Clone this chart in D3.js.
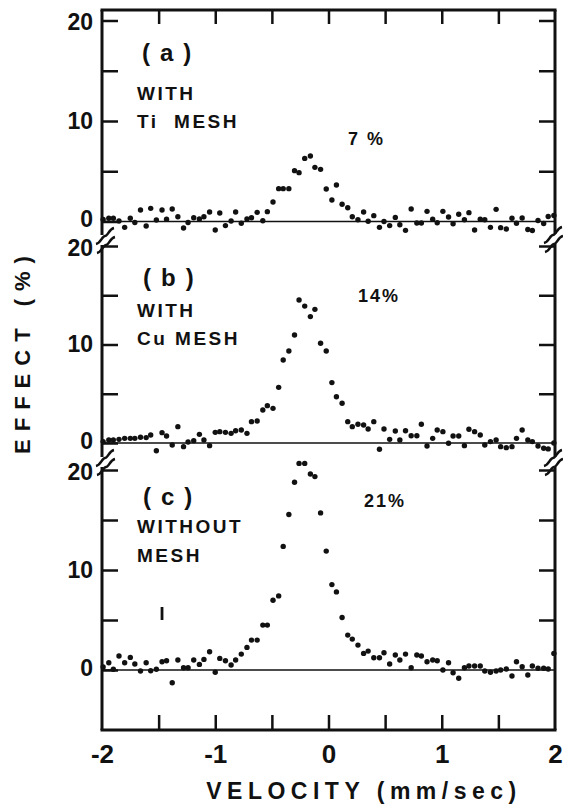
<!DOCTYPE html>
<html>
<head>
<meta charset="utf-8">
<script src="https://cdn.jsdelivr.net/npm/d3@7"></script>
<style>
  body { margin: 0; background: #fff; }
  svg text { font-family: "Liberation Sans", Arial, sans-serif; font-weight: bold; fill: #111; }
</style>
</head>
<body>
<div id="chart"></div>
<script>
// velocity channels (mm/sec), shared by the three spectra
const velocity = [-1.99, -1.94, -1.90, -1.85, -1.80, -1.75, -1.71, -1.66, -1.61, -1.57,
  -1.52, -1.47, -1.43, -1.38, -1.33, -1.28, -1.24, -1.19, -1.14, -1.10,
  -1.05, -1.00, -0.96, -0.91, -0.86, -0.82, -0.77, -0.72, -0.68, -0.63,
  -0.58, -0.54, -0.49, -0.44, -0.40, -0.35, -0.30, -0.26, -0.21, -0.16,
  -0.12, -0.07, -0.02, 0.03, 0.07, 0.12, 0.17, 0.21, 0.26, 0.31,
  0.35, 0.40, 0.45, 0.49, 0.54, 0.59, 0.63, 0.68, 0.73, 0.78,
  0.82, 0.87, 0.92, 0.96, 1.01, 1.06, 1.10, 1.15, 1.20, 1.24,
  1.29, 1.34, 1.38, 1.43, 1.48, 1.52, 1.57, 1.62, 1.66, 1.71,
  1.76, 1.80, 1.85, 1.90, 1.94, 1.99];

// (a) with Ti mesh
const effectTi = [0.2, 0.32, 0.32, 0.05, -0.58, 0.32, -0.1, 1.14, -0.45, 1.31,
  0.15, 1.14, 0.22, 1.24, 0.48, -0.65, -0.1, 0.38, 0.25, 0.48,
  0.95, -0.85, 0.85, -0.41, 0.05, 0.95, -0.18, 0.25, 0.38, 0.91,
  0.08, 0.98, 1.94, 3.27, 3.27, 3.27, 5.06, 4.86, 6.28, 6.52,
  5.39, 5.19, 3.23, 2.14, 3.63, 1.71, 1.37, 0.48, 0.18, 0.95,
  0.02, 0.58, -0.58, 0.0, -0.41, 0.41, -0.32, -0.88, 1.24, -0.15,
  -0.15, 1.01, 0.22, -0.12, 1.01, 0.45, -0.22, 0.72, 0.18, 0.88,
  -0.85, 0.22, 0.18, -0.58, 1.21, -0.61, -0.75, 0.32, -0.18, 0.35,
  -0.8, -0.9, 0.1, -0.2, 0.5, 0.6];

// (b) with Cu mesh
const effectCu = [0.14, 0.3, 0.3, 0.37, 0.47, 0.47, 0.47, 0.58, 0.55, 0.81,
  -0.78, 1.05, 0.71, -0.2, 1.66, -0.37, 0.1, 0.24, 0.88, 0.3,
  -0.27, 1.08, 1.15, 1.08, 0.98, 1.25, 1.32, 0.98, 2.17, 2.23,
  3.35, 3.79, 3.52, 5.65, 8.43, 9.34, 10.96, 14.52, 13.9, 12.83,
  13.57, 10.12, 9.34, 6.13, 4.7, 4.03, 2.17, 1.66, 1.9, 1.83,
  1.42, 2.17, -0.64, 1.42, 0.37, 1.22, 0.3, 1.25, 0.74, 0.74,
  1.9, -0.3, 0.47, 1.32, 1.15, -0.03, 0.71, 0.71, -0.27, 1.39,
  1.15, 0.81, -0.2, 0.14, 0.3, -0.37, -0.47, -0.37, 0.47, 1.32,
  0.3, 0.14, -0.3, -0.54, -0.6, 0.0];

// (c) without mesh
const effectNone = [0.3, 0.73, 0.07, 1.4, 0.73, 1.26, 0.6, -0.1, 0.73, -0.07,
  0.07, 0.83, 0.93, -1.27, 1.0, 0.23, 0.23, 1.0, 0.56, 1.06,
  1.83, -0.23, 1.16, 0.93, 0.5, 1.0, 1.59, 2.26, 2.99, 2.99,
  4.49, 4.49, 6.98, 7.41, 12.36, 15.55, 18.77, 20.66, 20.66, 19.6,
  19.34, 15.71, 11.89, 8.54, 7.81, 5.25, 3.49, 3.09, 2.49, 1.66,
  1.89, 1.23, 1.23, 1.73, 0.6, 1.5, 1.0, 1.59, 0.23, 1.5,
  1.4, 0.83, 1.0, 0.93, 0.0, 0.73, -0.27, -0.83, 0.23, 0.4,
  0.4, 0.4, -0.1, -0.23, -0.1, 0.0, 0.1, -0.6, 0.83, 0.33,
  -0.5, 0.4, 0.17, 0.17, 0.1, 1.66];

const errorBar = [-1.47, 5.0, 6.3];   // velocity, low, high (panel c)

const yTicks = [0, 5, 10, 15, 20];
const yLabels = [0, 10, 20];
const xLabels = [-2, -1, 0, 1, 2];
const xMinor = [-1.5, -1, -0.5, 0, 0.5, 1, 1.5];
const panelNames = ["(a)", "(b)", "(c)"];
const panelNotes = [["WITH", "Ti  MESH"], ["WITH", "Cu MESH"], ["WITHOUT", "MESH"]];
const peakLabels = ["7 %", "14%", "21%"];
const series = [effectTi, effectCu, effectNone];

// layout
const W = 563, H = 809;
const L = 102, R = 555, T = 10, B = 730;
const layout = [
  {y0: 221.5, y20: 20.5, name: [142, 61], note: [137, 100, 128], peak: [348, 145]},
  {y0: 443, y20: 246, name: [143, 286], note: [137, 317, 345], peak: [358, 302]},
  {y0: 670, y20: 470, name: [143, 505], note: [137, 533, 562], peak: [364, 507]}
];
const breaksLeft = [240, 462];
const breaksRight = [239, 462];

const svg = d3.select("#chart").append("svg")
  .attr("width", W).attr("height", H);

const x = d3.scaleLinear().domain([-2, 2]).range([L, R]);

layout.forEach((p, i) => {
  const y = d3.scaleLinear().domain([0, 20]).range([p.y0, p.y20]);
  const g = svg.append("g");

  // zero line
  g.append("line")
    .attr("x1", L).attr("x2", R)
    .attr("y1", y(0)).attr("y2", y(0))
    .attr("stroke", "#111").attr("stroke-width", 1.6);

  // left ticks + labels
  const la = g.append("g").attr("transform", `translate(${L},0)`)
    .call(d3.axisLeft(y).tickValues(yTicks).tickSize(-16).tickPadding(9)
      .tickFormat(d => yLabels.includes(d) ? d : ""));
  la.select(".domain").remove();
  la.selectAll("line").attr("stroke", "#111").attr("stroke-width", 2.5);
  la.selectAll("text").attr("font-size", 23).attr("fill", "#111")
    .style("font-family", "'Liberation Sans', Arial, sans-serif").style("font-weight", "bold")
    .attr("y", d => d === 0 ? -2 : d === 20 ? 2 : 0);

  // right ticks
  const ra = g.append("g").attr("transform", `translate(${R},0)`)
    .call(d3.axisRight(y).tickValues(yTicks.filter(v => v > 0)).tickSize(-16).tickFormat(""));
  ra.select(".domain").remove();
  ra.selectAll("line").attr("stroke", "#111").attr("stroke-width", 2.5);

  // points
  g.selectAll("circle")
    .data(series[i])
    .enter()
    .append("circle")
    .attr("cx", (d, k) => x(velocity[k]))
    .attr("cy", d => y(d))
    .attr("r", 2.7)
    .attr("fill", "#111");

  // labels
  g.append("text").attr("x", p.name[0]).attr("y", p.name[1])
    .attr("font-size", 24).attr("letter-spacing", 10).text(panelNames[i]);
  panelNotes[i].forEach((t, j) => {
    g.append("text").attr("x", p.note[0]).attr("y", p.note[1 + j])
      .attr("font-size", 19).attr("letter-spacing", 2.5)
      .style("white-space", "pre").text(t);
  });
  g.append("text").attr("x", p.peak[0]).attr("y", p.peak[1])
    .attr("font-size", 18).attr("letter-spacing", 2).text(peakLabels[i]);

  if (i === 2) {
    g.append("line")
      .attr("x1", x(errorBar[0])).attr("x2", x(errorBar[0]))
      .attr("y1", y(errorBar[1])).attr("y2", y(errorBar[2]))
      .attr("stroke", "#111").attr("stroke-width", 2.8);
  }
});

// frame: top and bottom
const frame = svg.append("g").attr("stroke", "#111").attr("stroke-width", 3).attr("fill", "none");
frame.append("line").attr("x1", L - 1.5).attr("x2", R + 1.5).attr("y1", T).attr("y2", T);
frame.append("line").attr("x1", L - 1.5).attr("x2", R + 1.5).attr("y1", B).attr("y2", B);

// side axes with breaks
function sideAxis(ax, gaps) {
  const stops = [T];
  gaps.forEach(c => { stops.push(c - 5, c + 5); });
  stops.push(B);
  for (let k = 0; k < stops.length; k += 2) {
    frame.append("line").attr("x1", ax).attr("x2", ax)
      .attr("y1", stops[k]).attr("y2", stops[k + 1]);
  }
}
sideAxis(L, breaksLeft);
sideAxis(R, breaksRight);

function sStroke(cx, cy) {
  return `M${cx - 9},${cy + 8} C${cx - 4},${cy + 7} ${cx - 3},${cy} ${cx},${cy} S${cx + 4},${cy - 7} ${cx + 9},${cy - 8}`;
}
breaksLeft.forEach(c => {
  frame.append("path").attr("d", sStroke(L + 3, c - 4)).attr("stroke-width", 2.6);
  frame.append("path").attr("d", sStroke(L + 4, c + 5)).attr("stroke-width", 2.6);
});
breaksRight.forEach(c => {
  frame.append("path").attr("d", sStroke(R - 2, c - 4)).attr("stroke-width", 2.6);
  frame.append("path").attr("d", sStroke(R - 1, c + 5)).attr("stroke-width", 2.6);
});

// top ticks
const ta = svg.append("g").attr("transform", `translate(0,${T})`)
  .call(d3.axisTop(x).tickValues(xMinor).tickSize(-14).tickFormat(""));
ta.select(".domain").remove();
ta.selectAll("line").attr("stroke", "#111").attr("stroke-width", 2.5);

// bottom ticks
const ba = svg.append("g").attr("transform", `translate(0,${B})`)
  .call(d3.axisBottom(x).tickValues(xMinor).tickSize(-15).tickFormat(""));
ba.select(".domain").remove();
ba.selectAll("line").attr("stroke", "#111").attr("stroke-width", 2.5);

// bottom labels
const bl = svg.append("g").attr("transform", `translate(0,${B})`)
  .call(d3.axisBottom(x).tickValues(xLabels).tickSize(0).tickPadding(15).tickFormat(d3.format("d")));
bl.select(".domain").remove();
bl.selectAll("text").attr("font-size", 26).attr("fill", "#111")
  .style("font-family", "'Liberation Sans', Arial, sans-serif").style("font-weight", "bold")
  .text(d => (d < 0 ? "-" : "") + Math.abs(d));

// axis titles
svg.append("text")
  .attr("x", 364).attr("y", 799)
  .attr("text-anchor", "middle")
  .attr("font-size", 23).attr("letter-spacing", 5.5)
  .text("VELOCITY (mm/sec)");

svg.append("text")
  .attr("transform", "translate(30,351) rotate(-90)")
  .attr("text-anchor", "middle")
  .attr("font-size", 22).attr("letter-spacing", 8)
  .text("EFFECT (%)");
</script>
</body>
</html>
